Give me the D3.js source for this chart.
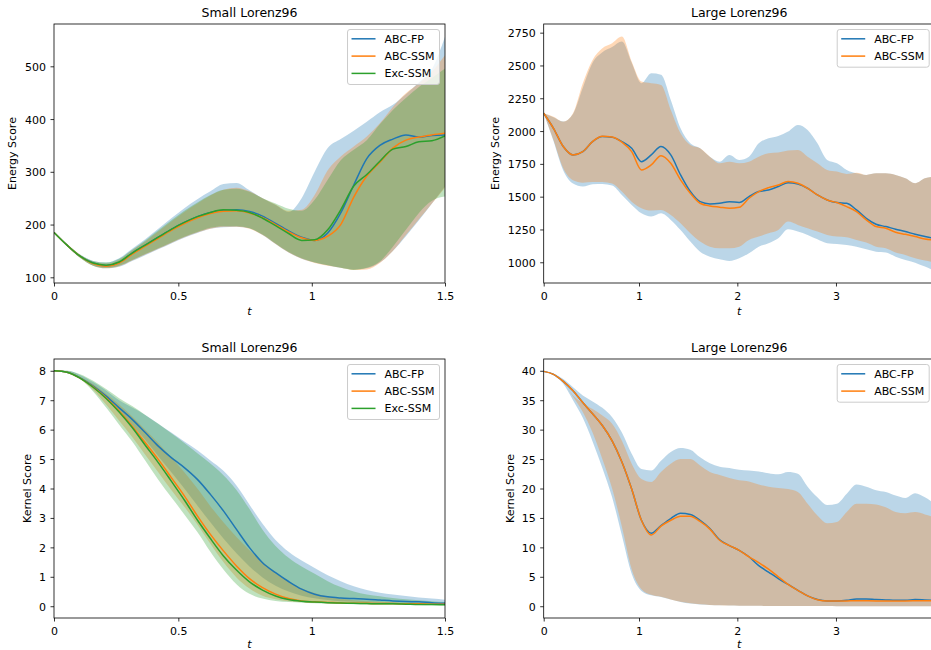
<!DOCTYPE html>
<html>
<head>
<meta charset="utf-8">
<script src="https://cdn.jsdelivr.net/npm/d3@7"></script>
<style>
  body { margin: 0; background: #fff; }
  svg { font-family: "DejaVu Sans", sans-serif; }
</style>
</head>
<body>
<svg id="chart" width="931" height="650"></svg>
<script>
// time grids (axis position units)
const tSmall = [0, 0.05, 0.1, 0.15, 0.2, 0.25, 0.3, 0.35, 0.4, 0.45, 0.5, 0.55, 0.6, 0.65, 0.7, 0.75,
  0.8, 0.85, 0.9, 0.95, 1.0, 1.05, 1.1, 1.15, 1.2, 1.25, 1.3, 1.35, 1.4, 1.45, 1.5];
const tLarge = [0, 0.1, 0.2, 0.3, 0.4, 0.5, 0.6, 0.7, 0.8, 0.9, 1.0, 1.1, 1.2, 1.3, 1.4, 1.5, 1.6, 1.7,
  1.8, 1.9, 2.0, 2.1, 2.2, 2.3, 2.4, 2.5, 2.6, 2.7, 2.8, 2.9, 3.0, 3.1, 3.2, 3.3, 3.4, 3.5, 3.6, 3.7,
  3.8, 3.9, 4.0];

// tick positions and labels
const xTickPosSmall = [0, 0.477, 0.989, 1.5];
const xTickLabelsSmall = ["0", "0.5", "1", "1.5"];
const xTickPosLarge = [0, 0.975, 1.981, 2.99];
const xTickLabelsLarge = ["0", "1", "2", "3"];
const yTicksEnergySmall = [100, 200, 300, 400, 500];
const yTicksEnergyLarge = [1000, 1250, 1500, 1750, 2000, 2250, 2500, 2750];
const yTicksKernelSmall = [0, 1, 2, 3, 4, 5, 6, 7, 8];
const yTicksKernelLarge = [0, 5, 10, 15, 20, 25, 30, 35, 40];

const methods = ["ABC-FP", "ABC-SSM", "Exc-SSM"];
const colors = ["#1f77b4", "#ff7f0e", "#2ca02c"];

// Small Lorenz96, energy score
const esSmallFP = [185, 161, 140, 127, 122, 128, 146, 161, 176, 191, 204, 215, 223, 227, 228, 225, 216, 202, 188, 176, 170, 184, 222, 275, 325, 350, 362, 370, 366, 369, 370];
const esSmallFPLo = [185, 159, 137, 122, 117, 120, 131, 142, 153, 164, 175, 184, 192, 195, 196, 193, 180, 163, 147, 135, 128, 123, 118, 115, 117, 128, 150, 178, 208, 240, 272];
const esSmallFPHi = [185, 163, 143, 131, 128, 136, 154, 172, 192, 212, 231, 248, 263, 277, 279, 265, 250, 237, 224, 250, 300, 345, 362, 378, 395, 413, 427, 447, 470, 495, 556];
const esSmallSSM = [185, 161, 140, 126, 121, 127, 144, 159, 174, 189, 202, 213, 221, 225, 226, 222, 213, 200, 186, 175, 170, 178, 200, 252, 292, 318, 345, 360, 366, 370, 373];
const esSmallSSMLo = [185, 159, 137, 122, 117, 121, 132, 143, 154, 165, 176, 185, 192, 196, 196, 192, 180, 163, 147, 135, 127, 122, 118, 114, 115, 127, 150, 180, 210, 240, 270];
const esSmallSSMHi = [185, 162, 142, 130, 126, 133, 151, 168, 187, 206, 224, 240, 255, 266, 270, 263, 250, 238, 226, 228, 256, 303, 329, 348, 367, 392, 423, 449, 468, 490, 521];
const esSmallExc = [185, 161, 140, 127, 123, 129, 146, 161, 176, 191, 204, 215, 223, 228, 227, 223, 212, 198, 183, 170, 171, 190, 228, 273, 295, 320, 343, 348, 357, 359, 368];
const esSmallExcLo = [185, 159, 137, 122, 118, 122, 133, 144, 155, 166, 177, 186, 194, 197, 197, 193, 181, 164, 148, 136, 128, 123, 118, 114, 118, 130, 158, 190, 222, 245, 253];
const esSmallExcHi = [185, 162, 143, 131, 128, 135, 152, 170, 189, 208, 226, 242, 256, 266, 268, 262, 250, 240, 230, 226, 247, 285, 322, 342, 360, 390, 417, 440, 461, 478, 496];

// Large Lorenz96, energy score
const esLargeFP = [2136, 2021, 1882, 1818, 1843, 1920, 1958, 1953, 1920, 1869, 1767, 1818, 1882, 1818, 1666, 1539, 1462, 1445, 1450, 1462, 1455, 1500, 1539, 1551, 1577, 1607, 1597, 1564, 1513, 1475, 1455, 1450, 1399, 1335, 1290, 1272, 1252, 1234, 1213, 1196, 1180];
const esLargeFPLo = [2136, 1925, 1700, 1600, 1577, 1595, 1597, 1585, 1513, 1437, 1373, 1348, 1373, 1323, 1246, 1158, 1081, 1043, 1023, 1010, 1030, 1069, 1119, 1145, 1183, 1252, 1234, 1208, 1175, 1145, 1140, 1132, 1119, 1099, 1081, 1074, 1043, 1018, 997, 967, 935];
const esLargeFPHi = [2136, 2105, 2072, 2130, 2330, 2520, 2600, 2640, 2682, 2520, 2364, 2440, 2430, 2237, 2021, 1907, 1869, 1805, 1767, 1818, 1780, 1805, 1907, 1945, 1963, 1996, 2047, 2009, 1907, 1780, 1755, 1704, 1678, 1666, 1678, 1678, 1666, 1640, 1602, 1640, 1653];
const esLargeSSM = [2136, 2021, 1882, 1818, 1843, 1920, 1960, 1955, 1915, 1843, 1704, 1742, 1812, 1754, 1628, 1526, 1450, 1429, 1420, 1412, 1419, 1488, 1539, 1569, 1589, 1615, 1602, 1564, 1513, 1475, 1455, 1424, 1386, 1323, 1272, 1259, 1229, 1213, 1196, 1178, 1170];
const esLargeSSMLo = [2136, 1932, 1716, 1625, 1607, 1612, 1612, 1600, 1539, 1462, 1412, 1394, 1399, 1361, 1297, 1221, 1158, 1119, 1107, 1107, 1119, 1170, 1196, 1221, 1246, 1310, 1285, 1259, 1234, 1208, 1196, 1191, 1170, 1150, 1119, 1107, 1074, 1056, 1030, 1013, 1000];
const esLargeSSMHi = [2136, 2110, 2072, 2136, 2364, 2542, 2631, 2669, 2720, 2530, 2377, 2364, 2352, 2161, 1983, 1894, 1869, 1805, 1755, 1767, 1755, 1767, 1805, 1831, 1836, 1851, 1856, 1805, 1755, 1704, 1691, 1673, 1683, 1666, 1678, 1678, 1666, 1640, 1602, 1640, 1653];

// Small Lorenz96, kernel score
const ksSmallFP = [8, 7.95, 7.76, 7.48, 7.14, 6.74, 6.35, 5.9, 5.44, 5.05, 4.71, 4.31, 3.8, 3.24, 2.61, 1.99, 1.48, 1.14, 0.84, 0.58, 0.41, 0.32, 0.28, 0.26, 0.24, 0.21, 0.18, 0.16, 0.15, 0.12, 0.1];
const ksSmallFPLo = [8, 7.96, 7.75, 7.45, 7.1, 6.65, 6.15, 5.65, 5.1, 4.55, 4.0, 3.42, 2.85, 2.3, 1.8, 1.35, 0.98, 0.7, 0.5, 0.36, 0.27, 0.21, 0.17, 0.15, 0.13, 0.12, 0.11, 0.1, 0.09, 0.08, 0.07];
const ksSmallFPHi = [8, 8, 7.86, 7.62, 7.33, 7.0, 6.75, 6.5, 6.2, 5.9, 5.6, 5.3, 4.95, 4.6, 4.1, 3.45, 2.8, 2.25, 1.85, 1.55, 1.3, 1.05, 0.85, 0.68, 0.55, 0.46, 0.4, 0.35, 0.3, 0.26, 0.22];
const ksSmallSSM = [8, 7.95, 7.75, 7.45, 7.08, 6.63, 6.12, 5.56, 4.99, 4.37, 3.75, 3.07, 2.44, 1.88, 1.37, 0.94, 0.63, 0.41, 0.26, 0.18, 0.15, 0.13, 0.11, 0.1, 0.1, 0.09, 0.09, 0.08, 0.08, 0.07, 0.07];
const ksSmallSSMLo = [8, 7.95, 7.72, 7.35, 6.85, 6.3, 5.75, 5.15, 4.55, 3.95, 3.38, 2.78, 2.12, 1.5, 0.98, 0.6, 0.36, 0.24, 0.17, 0.14, 0.12, 0.1, 0.09, 0.08, 0.07, 0.06, 0.06, 0.05, 0.05, 0.04, 0.04];
const ksSmallSSMHi = [8, 7.97, 7.8, 7.55, 7.22, 6.85, 6.45, 6.0, 5.55, 5.05, 4.55, 4.0, 3.4, 2.85, 2.35, 1.9, 1.5, 1.15, 0.85, 0.6, 0.45, 0.33, 0.25, 0.2, 0.17, 0.15, 0.13, 0.12, 0.11, 0.1, 0.09];
const ksSmallExc = [8, 7.95, 7.75, 7.44, 7.06, 6.6, 6.07, 5.47, 4.88, 4.25, 3.61, 2.93, 2.3, 1.71, 1.23, 0.83, 0.55, 0.35, 0.23, 0.17, 0.14, 0.12, 0.11, 0.1, 0.09, 0.08, 0.08, 0.07, 0.06, 0.06, 0.05];
const ksSmallExcLo = [8, 7.95, 7.72, 7.3, 6.75, 6.17, 5.6, 4.95, 4.3, 3.7, 3.12, 2.52, 1.85, 1.25, 0.75, 0.42, 0.26, 0.18, 0.14, 0.12, 0.1, 0.09, 0.08, 0.07, 0.06, 0.05, 0.05, 0.04, 0.04, 0.03, 0.03];
const ksSmallExcHi = [8, 8, 7.88, 7.66, 7.38, 7.07, 6.8, 6.5, 6.2, 5.88, 5.55, 5.2, 4.85, 4.45, 3.95, 3.3, 2.6, 2.05, 1.65, 1.35, 1.1, 0.85, 0.65, 0.5, 0.4, 0.34, 0.28, 0.24, 0.2, 0.17, 0.14];

// Large Lorenz96, kernel score
const ksLargeFP = [39.9, 39.4, 38.2, 36.6, 34.6, 32.7, 30.7, 28.1, 24.5, 19.9, 14.6, 12.4, 13.7, 14.9, 15.8, 15.6, 14.6, 13.2, 11.3, 10.3, 9.5, 8.4, 6.9, 5.8, 4.7, 3.7, 2.7, 1.75, 1.13, 0.9, 0.9, 1.0, 1.24, 1.24, 1.13, 1.07, 1.0, 1.0, 1.13, 1.07, 1.0];
const ksLargeFPLo = [39.9, 39.3, 37.8, 35.0, 32.0, 28.0, 23.5, 18.5, 12.0, 5.5, 2.6, 1.86, 1.58, 1.13, 0.73, 0.45, 0.3, 0.2, 0.15, 0.12, 0.1, 0.08, 0.06, 0.05, 0.04, 0.03, 0.03, 0.02, 0.02, 0.02, 0.01, 0.01, 0.01, 0.01, 0.01, 0, 0, 0, 0, 0, 0];
const ksLargeFPHi = [39.9, 39.55, 38.6, 37.2, 35.8, 34.8, 33.7, 32.1, 29.5, 25.9, 23.3, 23.05, 24.7, 26.2, 26.9, 26.6, 25.3, 24.3, 23.7, 23.5, 23.2, 23.05, 22.9, 22.6, 22.4, 22.8, 22.5, 20.3, 18.5, 17.2, 17.4, 19.1, 20.7, 20.3, 19.7, 19.4, 18.8, 18.4, 19.2, 18.5, 17.4];
const ksLargeSSM = [39.9, 39.4, 38.2, 36.6, 34.6, 32.7, 30.7, 28.1, 24.5, 19.9, 14.6, 12.1, 13.6, 14.6, 15.3, 15.3, 14.4, 13.1, 11.2, 10.3, 9.5, 8.4, 7.4, 6.3, 5.0, 3.7, 2.7, 1.75, 1.1, 0.88, 0.88, 0.9, 0.95, 0.92, 0.9, 0.9, 0.9, 0.9, 0.92, 0.95, 0.92];
const ksLargeSSMLo = [39.9, 39.4, 38.0, 35.6, 33.0, 29.5, 25.0, 20.0, 13.5, 6.3, 2.9, 1.95, 1.6, 1.15, 0.75, 0.5, 0.32, 0.22, 0.16, 0.12, 0.1, 0.08, 0.06, 0.05, 0.04, 0.03, 0.03, 0.02, 0.02, 0.02, 0.01, 0.01, 0.01, 0.01, 0.01, 0, 0, 0, 0, 0, 0];
const ksLargeSSMHi = [39.9, 39.4, 38.0, 35.8, 34.5, 33.5, 32.4, 31.0, 28.1, 24.2, 21.6, 21.1, 22.8, 24.2, 25.0, 25.0, 23.9, 22.8, 22.3, 21.8, 21.4, 21.2, 20.7, 20.3, 20.1, 19.9, 19.4, 17.4, 15.4, 14.1, 14.3, 16.0, 17.4, 17.4, 17.3, 16.8, 16.0, 15.8, 16.0, 15.6, 15.1];

const svg = d3.select("#chart");
const plotW = 391, plotH = 259;
const fontSize = 11;

const panels = [
  {
    left: 54, top: 24, title: "Small Lorenz96", ylabel: "Energy Score", ylabelX: 12.5, xlabelY: 315,
    t: tSmall, xMax: 1.5, yDomain: [89.2, 580.2], yTicks: yTicksEnergySmall,
    xTicks: xTickPosSmall, xLabels: xTickLabelsSmall,
    series: [[esSmallFP, esSmallFPLo, esSmallFPHi], [esSmallSSM, esSmallSSMLo, esSmallSSMHi], [esSmallExc, esSmallExcLo, esSmallExcHi]]
  },
  {
    left: 543.7, top: 24, title: "Large Lorenz96", ylabel: "Energy Score", ylabelX: 495.3, xlabelY: 315,
    t: tLarge, xMax: 4, yDomain: [842, 2816], yTicks: yTicksEnergyLarge,
    xTicks: xTickPosLarge, xLabels: xTickLabelsLarge,
    series: [[esLargeFP, esLargeFPLo, esLargeFPHi], [esLargeSSM, esLargeSSMLo, esLargeSSMHi]]
  },
  {
    left: 54, top: 359, title: "Small Lorenz96", ylabel: "Kernel Score", ylabelX: 27.7, xlabelY: 647.5,
    t: tSmall, xMax: 1.5, yDomain: [-0.4, 8.4], yTicks: yTicksKernelSmall,
    xTicks: xTickPosSmall, xLabels: xTickLabelsSmall,
    series: [[ksSmallFP, ksSmallFPLo, ksSmallFPHi], [ksSmallSSM, ksSmallSSMLo, ksSmallSSMHi], [ksSmallExc, ksSmallExcLo, ksSmallExcHi]]
  },
  {
    left: 543.7, top: 359, title: "Large Lorenz96", ylabel: "Kernel Score", ylabelX: 510, xlabelY: 647.5,
    t: tLarge, xMax: 4, yDomain: [-2, 42], yTicks: yTicksKernelLarge,
    xTicks: xTickPosLarge, xLabels: xTickLabelsLarge,
    series: [[ksLargeFP, ksLargeFPLo, ksLargeFPHi], [ksLargeSSM, ksLargeSSMLo, ksLargeSSMHi]]
  }
];

panels.forEach((p, pi) => {
  const x = d3.scaleLinear().domain([0, p.xMax]).range([p.left, p.left + plotW]);
  const y = d3.scaleLinear().domain(p.yDomain).range([p.top + plotH, p.top]);

  const clipId = "clip" + pi;
  svg.append("clipPath").attr("id", clipId)
    .append("rect")
    .attr("x", p.left).attr("y", p.top)
    .attr("width", plotW).attr("height", plotH);

  const plot = svg.append("g").attr("clip-path", `url(#${clipId})`);

  const area = d3.area()
    .x((d) => x(d.t))
    .y0((d) => y(d.lo))
    .y1((d) => y(d.hi))
    .curve(d3.curveMonotoneX);

  const line = d3.line()
    .x((d) => x(d.t))
    .y((d) => y(d.v))
    .curve(d3.curveMonotoneX);

  // bands first (below lines, like matplotlib zorder)
  p.series.forEach(([mean, lo, hi], i) => {
    const rows = p.t.map((t, k) => ({ t, lo: lo[k], hi: hi[k] }));
    plot.append("path")
      .datum(rows)
      .attr("fill", colors[i])
      .attr("fill-opacity", 0.3)
      .attr("stroke", "none")
      .attr("d", area);
  });

  p.series.forEach(([mean], i) => {
    const rows = p.t.map((t, k) => ({ t, v: mean[k] }));
    plot.append("path")
      .datum(rows)
      .attr("fill", "none")
      .attr("stroke", colors[i])
      .attr("stroke-width", 1.5)
      .attr("stroke-linejoin", "round")
      .attr("d", line);
  });

  // axes
  const xAxis = svg.append("g")
    .attr("transform", `translate(0,${p.top + plotH})`)
    .call(
      d3.axisBottom(x)
        .tickValues(p.xTicks)
        .tickFormat((d, k) => p.xLabels[k])
        .tickSize(3.5)
        .tickPadding(5.6)
        .tickSizeOuter(0)
    );
  const yAxis = svg.append("g")
    .attr("transform", `translate(${p.left},0)`)
    .call(
      d3.axisLeft(y)
        .tickValues(p.yTicks)
        .tickFormat(d3.format("d"))
        .tickSize(3.5)
        .tickPadding(4.5)
        .tickSizeOuter(0)
    );
  [xAxis, yAxis].forEach((a) => {
    a.select(".domain").remove();
    a.selectAll("line").attr("stroke", "#000").attr("stroke-width", 0.8);
    a.selectAll("text")
      .attr("font-family", "DejaVu Sans")
      .attr("font-size", fontSize)
      .attr("fill", "#000");
  });
  yAxis.selectAll("text").attr("dy", "0.36em");

  // spines
  svg.append("rect")
    .attr("x", p.left).attr("y", p.top)
    .attr("width", plotW).attr("height", plotH)
    .attr("fill", "none")
    .attr("stroke", "#000")
    .attr("stroke-width", 0.8);

  // title and labels
  svg.append("text")
    .attr("x", p.left + plotW / 2)
    .attr("y", p.top - 7)
    .attr("text-anchor", "middle")
    .attr("font-size", 12.5)
    .text(p.title);

  svg.append("text")
    .attr("x", p.left + plotW / 2)
    .attr("y", p.xlabelY)
    .attr("text-anchor", "middle")
    .attr("font-size", fontSize)
    .attr("font-style", "italic")
    .text("t");

  svg.append("text")
    .attr("transform", `translate(${p.ylabelX},${p.top + plotH / 2}) rotate(-90)`)
    .attr("text-anchor", "middle")
    .attr("dominant-baseline", "central")
    .attr("font-size", fontSize)
    .text(p.ylabel);

  // legend
  const n = p.series.length;
  const lg = svg.append("g");
  const frame = lg.append("rect");
  const labels = [];
  for (let i = 0; i < n; i++) {
    const cy = p.top + 5.5 + 9.3 + i * 17.3;
    lg.append("line")
      .attr("stroke", colors[i])
      .attr("stroke-width", 1.5)
      .attr("y1", cy).attr("y2", cy)
      .attr("class", "handle");
    labels.push(
      lg.append("text")
        .attr("y", cy)
        .attr("dy", "0.36em")
        .attr("font-size", fontSize)
        .text(methods[i])
    );
  }
  const textW = d3.max(labels, (l) => l.node().getComputedTextLength());
  const boxRight = p.left + plotW - 5.5;
  const boxW = 4 + 24 + 9 + textW + 5;
  const boxLeft = boxRight - boxW;
  frame
    .attr("x", boxLeft).attr("y", p.top + 5.5)
    .attr("width", boxW).attr("height", 20.4 + 17.3 * (n - 1))
    .attr("rx", 2.5)
    .attr("fill", "#fff").attr("fill-opacity", 0.8)
    .attr("stroke", "#cccccc").attr("stroke-width", 1);
  lg.selectAll("line.handle").attr("x1", boxLeft + 4).attr("x2", boxLeft + 28);
  labels.forEach((l) => l.attr("x", boxLeft + 37));
});
</script>
</body>
</html>
